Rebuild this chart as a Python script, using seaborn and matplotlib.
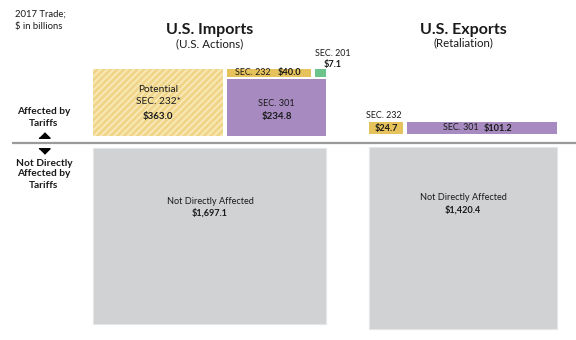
import matplotlib
matplotlib.use("Agg")
import matplotlib.pyplot as plt
import seaborn as sns

# ---- data (2017 trade, $ billions) ----
imp_potential_232 = 363.0
imp_sec232 = 40.0
imp_sec201 = 7.1
imp_sec301 = 234.8
imp_not_affected = 1697.1
exp_sec232 = 24.7
exp_sec301 = 101.2
exp_not_affected = 1420.4

sns.set_theme(style="white")
plt.rcParams['font.family'] = ['Lato', 'DejaVu Sans']
plt.rcParams['hatch.linewidth'] = 2.0

fig = plt.figure(figsize=(5.76, 3.40), dpi=100)
ax = fig.add_axes([0, 0, 1, 1])
ax.set_xlim(0, 576)
ax.set_ylim(340, 0)
ax.axis("off")

K = 24.1          # px^2 per $billion (area scale)
BASE = 136        # bottom of "affected" row
TOP2 = 148        # top of "not affected" row
STRIP = 8         # height of thin labelled strips
STRIP_E = 12

YEL = "#E6C25C"
PUR = "#A68AC0"
GRN = "#6CC48C"
GRY = "#D1D2D4"
TXT = "#1a1a1a"

def box(x, w, value, bottom=None, top=None, h=None, **kw):
    hh = h if h is not None else value * K / w
    if top is None:
        top = bottom - hh
    ax.bar(x, hh, width=w, bottom=top, align="edge", **kw)
    return top, hh

# Imports, affected
t_pot, _ = box(93, 130, imp_potential_232, bottom=BASE, color="#F8E8B6",
               edgecolor="#F0D589", linewidth=0, hatch="/////")
t301, h301 = box(227, 99, imp_sec301, bottom=BASE, color=PUR, linewidth=0)
t232, _ = box(227, 84, imp_sec232, bottom=t301 - 2, h=STRIP, color=YEL, linewidth=0)
t201, _ = box(315, 11, imp_sec201, bottom=t301 - 2, h=STRIP, color=GRN, linewidth=0)

# Exports, affected
box(369, 34, exp_sec232, bottom=BASE - 2, h=STRIP_E, color=YEL, linewidth=0)
box(407, 150, exp_sec301, bottom=BASE - 2, h=STRIP_E, color=PUR, linewidth=0)

# Not affected
box(93, 233, imp_not_affected, top=TOP2, color=GRY, edgecolor="#E4E5E6", linewidth=0.8)
box(369, 188, exp_not_affected, top=TOP2 - 1, color=GRY, edgecolor="#E4E5E6", linewidth=0.8)

# divider
ax.plot([12, 576], [143, 143], color="#9A9A9A", lw=1.6, solid_capstyle="butt")

def txt(x, y, s, size=6.5, bold=False, ha="center", **kw):
    ax.text(x, y, s, fontsize=size, fontweight="bold" if bold else "normal",
            ha=ha, va="center", color=TXT, **kw)

# header
txt(15, 14, "2017 Trade;", 6.8, ha="left")
txt(15, 27, "$ in billions", 6.8, ha="left")
txt(210, 30, "U.S. Imports", 11.5, True)
txt(210, 44, "(U.S. Actions)", 8.3)
txt(463, 30, "U.S. Exports", 11.5, True)
txt(463, 43, "(Retaliation)", 8.3)

# left labels
up = [(-1, -0.5), (1, -0.5), (0, 0.5)]
dn = [(-1, 0.5), (1, 0.5), (0, -0.5)]
txt(44, 112, "Affected by", 7.3, True)
txt(44, 123, "Tariffs", 7.3, True)
ax.plot([44], [134.5], marker=up, color="black", markersize=8, linestyle="none")
ax.plot([44], [150.5], marker=dn, color="black", markersize=8, linestyle="none")
txt(44, 163, "Not Directly", 7.3, True)
txt(44, 174, "Affected by", 7.3, True)
txt(44, 185, "Tariffs", 7.3, True)

# import labels
cp = 93 + 65
txt(cp, 90, "Potential", 7.3)
txt(cp, 101, "SEC. 232*", 7.3)
txt(cp, 116, f"${imp_potential_232:,.1f}", 7, True)
cy = t232 + STRIP / 2
txt(253, cy, "SEC. 232", 6.4)
txt(289, cy, f"${imp_sec232:,.1f}", 6.6, True)
txt(333, 54, "SEC. 201", 6.4)
txt(333, 64, f"${imp_sec201:,.1f}", 6.6, True)
c301 = 227 + 49.5
txt(c301, 104, "SEC. 301", 6.6)
txt(c301, 117, f"${imp_sec301:,.1f}", 7, True)

# export labels
ey = BASE - 2 - STRIP_E / 2
txt(384, 116, "SEC. 232", 6.4)
txt(386, ey, f"${exp_sec232:,.1f}", 6.6, True)
txt(461, ey, "SEC. 301", 6.4)
txt(498, ey, f"${exp_sec301:,.1f}", 6.6, True)

# not affected labels
txt(210, 201, "Not Directly Affected", 6.6)
txt(210, 213, f"${imp_not_affected:,.1f}", 6.6, True)
txt(463, 198, "Not Directly Affected", 6.6)
txt(463, 210, f"${exp_not_affected:,.1f}", 6.6, True)

fig.savefig("out.png", dpi=100)
